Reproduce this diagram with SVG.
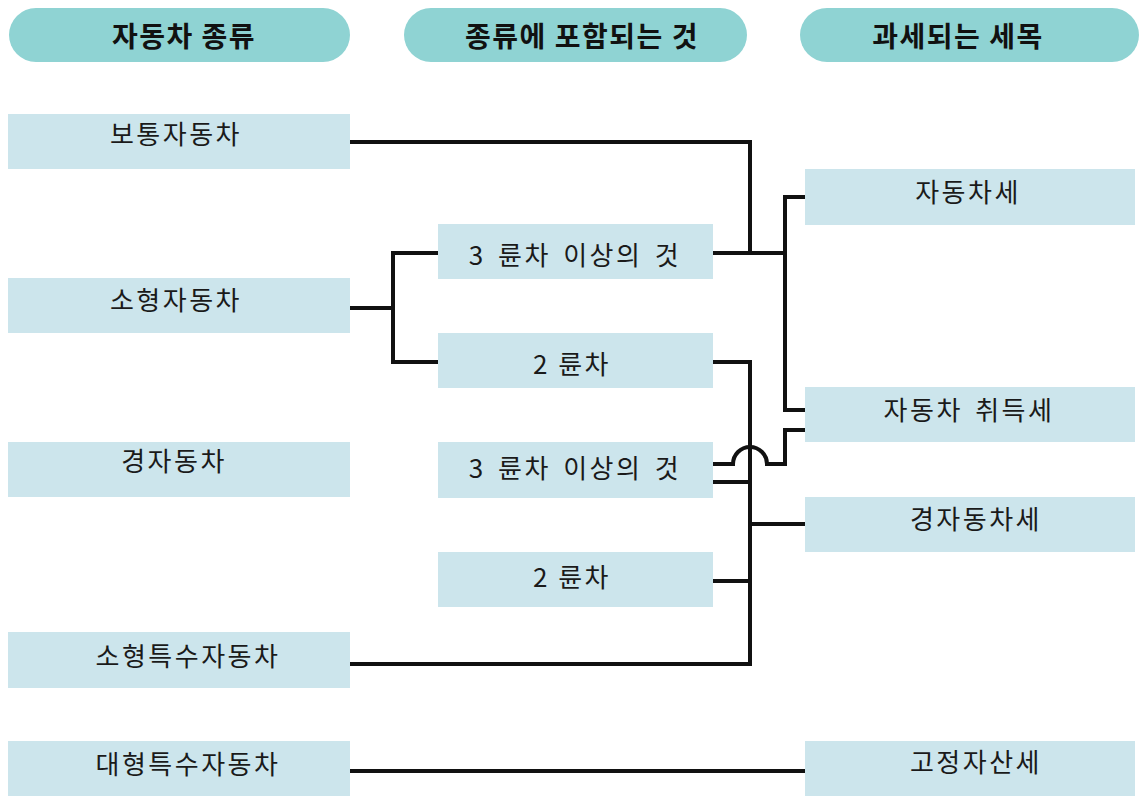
<svg xmlns="http://www.w3.org/2000/svg" width="1139" height="796" viewBox="0 0 1139 796">
<style>
.hdr{fill:#8fd3d3}
.box{fill:#cce5ec}
.ht{font-family:"Noto Sans CJK KR","Noto Sans",sans-serif;font-weight:bold;font-size:28px;fill:#111;text-anchor:middle;dominant-baseline:central;letter-spacing:1.5px}
.t{font-family:"Noto Sans CJK KR","Noto Sans",sans-serif;font-size:26px;fill:#1a1a1a;text-anchor:middle;dominant-baseline:central;letter-spacing:2.5px}
.w{word-spacing:4px}
.c{fill:none;stroke:#111;stroke-width:4;stroke-linejoin:miter}
</style>
<rect width="1139" height="796" fill="#fff"/>
<g id="h1"><rect class="hdr" x="9" y="8" width="341" height="54" rx="27"/><text class="ht" x="184" y="35">자동차 종류</text></g>
<g id="h2"><rect class="hdr" x="404" y="8" width="343" height="54" rx="27"/><text class="ht" x="582" y="35">종류에 포함되는 것</text></g>
<g id="h3"><rect class="hdr" x="800" y="8" width="339" height="54" rx="27"/><text class="ht" x="958" y="35">과세되는 세목</text></g>

<g id="connectors">
<path class="c" d="M350,142 H750 V253"/>
<path class="c" d="M713,253 H785"/>
<path class="c" d="M805,197 H785 V410 H805"/>
<path class="c" d="M350,308 H393"/>
<path class="c" d="M438,253 H393 V362 H438"/>
<path class="c" d="M713,362 H750 V664 H350"/>
<path class="c" d="M713,464 H733 A17,17 0 0 1 767,464 H785 V430 H805"/>
<path class="c" d="M713,482 H750"/>
<path class="c" d="M750,524 H805"/>
<path class="c" d="M713,581 H750"/>
<path class="c" d="M350,771 H805"/>
</g>

<g id="n1"><rect class="box" x="8" y="114" width="342" height="55"/><text class="t" x="176" y="132">보통자동차</text></g>
<g id="n2"><rect class="box" x="8" y="278" width="342" height="55"/><text class="t" x="176" y="298">소형자동차</text></g>
<g id="n3"><rect class="box" x="8" y="442" width="342" height="55"/><text class="t" x="174" y="459">경자동차</text></g>
<g id="n4"><rect class="box" x="8" y="632" width="342" height="56"/><text class="t" x="188" y="654">소형특수자동차</text></g>
<g id="n5"><rect class="box" x="8" y="741" width="342" height="55"/><text class="t" x="188" y="762">대형특수자동차</text></g>

<g id="m1"><rect class="box" x="438" y="224" width="275" height="55"/><text class="t w" x="575" y="253">3 륜차 이상의 것</text></g>
<g id="m2"><rect class="box" x="438" y="333" width="275" height="55"/><text class="t" x="572" y="362">2 륜차</text></g>
<g id="m3"><rect class="box" x="438" y="442" width="275" height="56"/><text class="t w" x="575" y="466">3 륜차 이상의 것</text></g>
<g id="m4"><rect class="box" x="438" y="552" width="275" height="55"/><text class="t" x="572" y="575">2 륜차</text></g>

<g id="r1"><rect class="box" x="805" y="169" width="330" height="56"/><text class="t" x="968" y="190">자동차세</text></g>
<g id="r2"><rect class="box" x="805" y="387" width="330" height="55"/><text class="t w" x="969" y="408">자동차 취득세</text></g>
<g id="r3"><rect class="box" x="805" y="497" width="330" height="55"/><text class="t" x="976" y="517">경자동차세</text></g>
<g id="r4"><rect class="box" x="805" y="741" width="330" height="55"/><text class="t" x="976" y="760">고정자산세</text></g>
</svg>
